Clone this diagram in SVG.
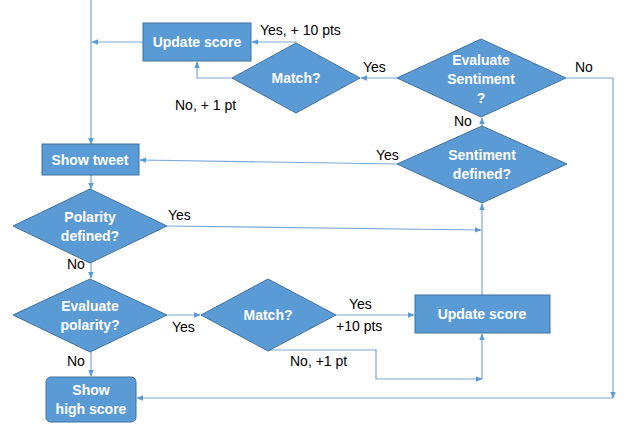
<svg xmlns="http://www.w3.org/2000/svg" width="624" height="427" viewBox="0 0 624 427">
  <defs>
    <marker id="arr" viewBox="0 0 10 10" refX="9" refY="5" markerWidth="7" markerHeight="7" orient="auto" markerUnits="userSpaceOnUse">
      <path d="M0,1 L10,5 L0,9 Z" fill="#5B9BD5"/>
    </marker>
    <style>
      .box { fill: #5B9BD5; stroke: #41719C; stroke-width: 1; }
      .node-text { font-family: "Liberation Sans", Arial, sans-serif; font-weight: bold; font-size: 14px; fill: #FFFFFF; text-anchor: middle; }
      .lbl { font-family: "Liberation Sans", Arial, sans-serif; font-size: 14px; fill: #000000; }
      .conn { fill: none; stroke: #7BA7D6; stroke-width: 1.2; marker-end: url(#arr); }
    </style>
  </defs>
  <rect width="624" height="427" fill="#FFFFFF"/>

  <g id="connectors">
    <!-- entry line into Show tweet -->
    <path class="conn" d="M91,0 L91,144"/>
    <!-- Update score (top) back to the main line -->
    <path class="conn" d="M143,42 L92,42"/>
    <!-- Match (top): yes -->
    <path class="conn" d="M296,43 L296,42 L252,42"/>
    <!-- Match (top): no -->
    <path class="conn" d="M232,78 L197,78 L197,62"/>
    <!-- Evaluate Sentiment: yes -->
    <path class="conn" d="M397,78 L361,78"/>
    <!-- Evaluate Sentiment: no, down the right side to Show high score -->
    <path class="conn" d="M566,78 L613,78 L613,398"/>
    <path class="conn" d="M613,398 L137,398"/>
    <!-- Sentiment defined: no -->
    <path class="conn" d="M482,126 L482,118"/>
    <!-- Sentiment defined: yes -->
    <path class="conn" d="M397,164 L140,160"/>
    <!-- Show tweet to Polarity defined -->
    <path class="conn" d="M91,175 L91,189"/>
    <!-- Polarity defined: yes -->
    <path class="conn" d="M167,226 L481,230"/>
    <!-- Update score (bottom) up to Sentiment defined -->
    <path class="conn" d="M482,295 L482,204"/>
    <!-- Polarity defined: no -->
    <path class="conn" d="M91,263 L91,278"/>
    <!-- Evaluate polarity: yes -->
    <path class="conn" d="M167,315 L200,315"/>
    <!-- Match (bottom): yes -->
    <path class="conn" d="M336,315 L414,315"/>
    <!-- Match (bottom): no -->
    <path class="conn" d="M268,350 L376,350 L376,379 L482,379"/>
    <path class="conn" d="M482,379 L482,334"/>
    <!-- Evaluate polarity: no -->
    <path class="conn" d="M91,352 L91,376"/>
  </g>

  <g id="update-score-top">
    <rect class="box" x="143" y="23" width="108" height="38"/>
    <text class="node-text" x="197" y="47">Update score</text>
  </g>
  <g id="match-top">
    <polygon class="box" points="296,43 360,78 296,113 232,78"/>
    <text class="node-text" x="296" y="83">Match?</text>
  </g>
  <g id="evaluate-sentiment">
    <polygon class="box" points="481,39 566,78 481,117 397,78"/>
    <text class="node-text" x="481" y="65">Evaluate</text>
    <text class="node-text" x="481" y="84">Sentiment</text>
    <text class="node-text" x="481" y="103">?</text>
  </g>
  <g id="show-tweet">
    <rect class="box" x="42" y="144" width="97" height="31"/>
    <text class="node-text" x="90" y="165">Show tweet</text>
  </g>
  <g id="sentiment-defined">
    <polygon class="box" points="482,126 567,164 482,203 397,164"/>
    <text class="node-text" x="482" y="160">Sentiment</text>
    <text class="node-text" x="482" y="179">defined?</text>
  </g>
  <g id="polarity-defined">
    <polygon class="box" points="90,189 167,226 90,263 13,226"/>
    <text class="node-text" x="90" y="222">Polarity</text>
    <text class="node-text" x="90" y="241">defined?</text>
  </g>
  <g id="evaluate-polarity">
    <polygon class="box" points="90,279 167,315 90,352 13,315"/>
    <text class="node-text" x="90" y="311">Evaluate</text>
    <text class="node-text" x="90" y="330">polarity?</text>
  </g>
  <g id="match-bottom">
    <polygon class="box" points="268,279 336,315 268,351 201,315"/>
    <text class="node-text" x="268" y="320">Match?</text>
  </g>
  <g id="update-score-bottom">
    <rect class="box" x="415" y="295" width="135" height="38"/>
    <text class="node-text" x="482" y="319">Update score</text>
  </g>
  <g id="show-high-score">
    <rect class="box" x="46" y="377" width="90" height="45" rx="5" ry="5"/>
    <text class="node-text" x="91" y="395">Show</text>
    <text class="node-text" x="91" y="414">high score</text>
  </g>

  <g id="labels">
    <text class="lbl" x="260" y="35">Yes, + 10 pts</text>
    <text class="lbl" x="175" y="110">No, + 1 pt</text>
    <text class="lbl" x="363" y="72">Yes</text>
    <text class="lbl" x="575" y="72">No</text>
    <text class="lbl" x="454" y="126">No</text>
    <text class="lbl" x="376" y="160">Yes</text>
    <text class="lbl" x="168" y="220">Yes</text>
    <text class="lbl" x="67" y="269">No</text>
    <text class="lbl" x="172" y="332">Yes</text>
    <text class="lbl" x="67" y="366">No</text>
    <text class="lbl" x="349" y="309">Yes</text>
    <text class="lbl" x="336" y="331">+10 pts</text>
    <text class="lbl" x="290" y="366">No, +1 pt</text>
  </g>
</svg>
